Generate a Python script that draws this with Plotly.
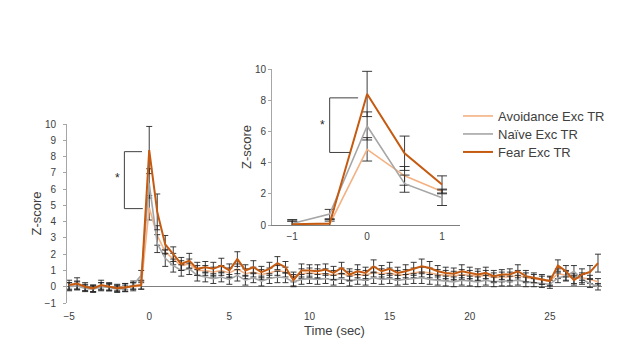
import plotly.graph_objects as go

# ---------------- data ----------------
time_sec = [-5, -4.5, -4, -3.5, -3, -2.5, -2, -1.5, -1, -0.5,
            0, 0.5, 1, 1.5, 2, 2.5, 3, 3.5, 4, 4.5,
            5, 5.5, 6, 6.5, 7, 7.5, 8, 8.5, 9, 9.5,
            10, 10.5, 11, 11.5, 12, 12.5, 13, 13.5, 14, 14.5,
            15, 15.5, 16, 16.5, 17, 17.5, 18, 18.5, 19, 19.5,
            20, 20.5, 21, 21.5, 22, 22.5, 23, 23.5, 24, 24.5,
            25, 25.5, 26, 26.5, 27, 27.5, 28]

fear = [0.10, 0.20, 0.00, -0.10, 0.10, 0.00, -0.10, -0.05, 0.05, 0.10,
        8.40, 4.60, 2.60, 2.00, 1.40, 1.60, 1.10, 1.20, 1.10, 1.30,
        1.00, 1.70, 1.00, 1.20, 0.90, 1.10, 1.45, 1.20, 0.40, 1.00,
        1.00, 0.95, 1.05, 0.85, 1.15, 0.75, 0.95, 0.85, 1.25, 0.95,
        1.10, 0.85, 0.95, 1.10, 1.25, 1.15, 0.95, 0.85, 0.80, 0.95,
        0.85, 0.75, 0.85, 0.65, 0.75, 0.75, 0.95, 0.65, 0.55, 0.45,
        0.35, 1.30, 0.95, 0.40, 0.75, 0.90, 1.45]
fear_err = [0.30, 0.35, 0.25, 0.20, 0.30, 0.25, 0.20, 0.25, 0.20, 0.25,
            1.45, 1.10, 0.55, 0.45, 0.40, 0.45, 0.40, 0.35, 0.40, 0.45,
            0.40, 0.45, 0.35, 0.40, 0.35, 0.40, 0.40, 0.35, 0.35, 0.40,
            0.35, 0.40, 0.35, 0.40, 0.35, 0.35, 0.40, 0.35, 0.40, 0.35,
            0.40, 0.35, 0.40, 0.40, 0.45, 0.40, 0.35, 0.35, 0.35, 0.40,
            0.35, 0.35, 0.35, 0.35, 0.30, 0.35, 0.40, 0.35, 0.30, 0.30,
            0.30, 0.35, 0.35, 0.30, 0.35, 0.40, 0.55]

avoid = [0.05, 0.10, -0.05, -0.10, 0.05, 0.00, -0.05, 0.00, 0.00, 0.05,
         4.85, 3.15, 2.15, 1.70, 1.30, 1.40, 1.00, 1.00, 0.90, 1.00,
         0.85, 1.10, 0.80, 0.90, 0.75, 0.85, 1.00, 0.90, 0.60, 0.80,
         0.85, 0.80, 0.80, 0.70, 0.85, 0.65, 0.75, 0.70, 0.90, 0.80,
         0.85, 0.70, 0.75, 0.85, 0.90, 0.85, 0.75, 0.70, 0.65, 0.75,
         0.70, 0.65, 0.70, 0.55, 0.60, 0.60, 0.70, 0.55, 0.50, 0.40,
         0.35, 0.80, 0.70, 0.50, 0.55, 0.45, 0.30]
avoid_err = [0.20, 0.25, 0.20, 0.20, 0.20, 0.20, 0.20, 0.20, 0.25, 0.20,
             0.75, 0.60, 0.15, 0.35, 0.30, 0.30, 0.30, 0.30, 0.30, 0.30,
             0.30, 0.30, 0.30, 0.30, 0.30, 0.30, 0.30, 0.30, 0.30, 0.30,
             0.30, 0.30, 0.30, 0.30, 0.30, 0.30, 0.30, 0.30, 0.30, 0.30,
             0.30, 0.30, 0.30, 0.30, 0.30, 0.30, 0.30, 0.30, 0.30, 0.30,
             0.30, 0.30, 0.30, 0.30, 0.30, 0.30, 0.30, 0.30, 0.25, 0.25,
             0.25, 0.30, 0.30, 0.30, 0.30, 0.25, 0.20]

naive = [0.00, 0.05, -0.10, -0.15, 0.00, -0.05, -0.15, -0.10, 0.10, 0.70,
         6.35, 2.65, 1.75, 1.30, 1.00, 1.10, 0.70, 0.60, 0.50, 0.60,
         0.45, 0.70, 0.40, 0.55, 0.35, 0.50, 0.60, 0.55, 0.30, 0.45,
         0.50, 0.45, 0.50, 0.40, 0.50, 0.35, 0.45, 0.40, 0.55, 0.45,
         0.50, 0.40, 0.45, 0.50, 0.55, 0.45, 0.40, 0.35, 0.30, 0.40,
         0.35, 0.30, 0.40, 0.30, 0.35, 0.35, 0.40, 0.30, 0.25, 0.20,
         0.15, 0.55, 0.65, 0.95, 0.45, 0.20, 0.00]
naive_err = [0.25, 0.25, 0.20, 0.20, 0.25, 0.20, 0.20, 0.20, 0.25, 0.30,
             0.90, 0.55, 0.50, 0.40, 0.35, 0.35, 0.35, 0.30, 0.30, 0.30,
             0.30, 0.35, 0.30, 0.30, 0.30, 0.30, 0.35, 0.30, 0.30, 0.30,
             0.30, 0.30, 0.30, 0.30, 0.30, 0.30, 0.30, 0.30, 0.35, 0.30,
             0.30, 0.30, 0.30, 0.30, 0.35, 0.30, 0.30, 0.30, 0.30, 0.30,
             0.30, 0.30, 0.30, 0.30, 0.30, 0.30, 0.30, 0.30, 0.25, 0.25,
             0.25, 0.30, 0.30, 0.35, 0.30, 0.25, 0.20]

series_names = ["Avoidance Exc TR", "Naïve Exc TR", "Fear Exc TR"]
series_colors = ["#F4B183", "#A6A6A6", "#C55A11"]

x_tick_vals = [-5, 0, 5, 10, 15, 20, 25]
y_tick_vals = [-1, 0, 1, 2, 3, 4, 5, 6, 7, 8, 9, 10]
inset_x_ticks = [-1, 0, 1]
inset_y_ticks = [0, 2, 4, 6, 8, 10]

# inset window: -1 .. 1 s
inset_lo, inset_hi = time_sec.index(-1), time_sec.index(1) + 1

# ---------------- figure ----------------
OFF = 8                       # default page body margin
W, H = 617 - 2 * OFF, 347 - 2 * OFF   # keep page inside the window
FONT = "Liberation Sans, Arial, sans-serif"
TXT = "#404040"
ERRC = "#262626"

fig = go.Figure()

vals = [avoid, naive, fear]
errs = [avoid_err, naive_err, fear_err]
widths = [1.6, 1.6, 2.0]
legend_ids = ["legend", "legend2", "legend3"]

for name, col, v, e, w, lg in zip(series_names, series_colors, vals, errs,
                                  widths, legend_ids):
    fig.add_trace(go.Scatter(
        x=time_sec, y=v, mode="lines", name=name,
        line=dict(color=col, width=w),
        error_y=dict(type="data", array=e, visible=True, color=ERRC,
                     thickness=0.9, width=3),
        xaxis="x", yaxis="y", showlegend=True, legend=lg))

for name, col, v, e, w in zip(series_names, series_colors, vals, errs, widths):
    fig.add_trace(go.Scatter(
        x=time_sec[inset_lo:inset_hi], y=v[inset_lo:inset_hi], mode="lines",
        name=name, line=dict(color=col, width=w),
        error_y=dict(type="data", array=e[inset_lo:inset_hi], visible=True,
                     color=ERRC, thickness=0.9, width=5),
        xaxis="x2", yaxis="y2", showlegend=False))

def px_x(p):
    return (p - OFF) / W

def px_y(p):
    return 1 - (p - OFF) / H

legend_style = dict(x=px_x(458), xanchor="left", yanchor="middle",
                    bgcolor="rgba(0,0,0,0)", font=dict(size=13, color=TXT),
                    itemwidth=30)

fig.update_layout(
    width=W, height=H, autosize=False,
    margin=dict(l=0, r=0, t=0, b=0, pad=0, autoexpand=False),
    paper_bgcolor="white", plot_bgcolor="rgba(0,0,0,0)",
    font=dict(family=FONT, color=TXT, size=10),
    xaxis=dict(domain=[px_x(67), px_x(602)], range=[-5.13, 28.25],
               automargin=False,
               tickvals=x_tick_vals, showgrid=False, zeroline=False,
               showline=False, ticks="", tickfont=dict(size=10),
               ticklabelstandoff=6,
               title=dict(text="Time (sec)", font=dict(size=13), standoff=4)),
    yaxis=dict(domain=[px_y(303), px_y(124)], range=[-1, 10],
               automargin=False,
               tickvals=y_tick_vals, showgrid=False,
               zeroline=True, zerolinecolor="#7F7F7F", zerolinewidth=1,
               showline=True, linecolor="#A6A6A6", linewidth=1,
               ticks="outside", ticklen=3, tickcolor="#A6A6A6",
               tickfont=dict(size=10), ticklabelstandoff=5,
               title=dict(text="Z-score", font=dict(size=13), standoff=0)),
    xaxis2=dict(domain=[px_x(272), px_x(460)], range=[-1.27, 1.24],
                automargin=False,
                anchor="y2", tickvals=inset_x_ticks, showgrid=False,
                zeroline=False, showline=True, linecolor="#7F7F7F",
                ticks="", tickfont=dict(size=10), ticklabelstandoff=2),
    yaxis2=dict(domain=[px_y(225), px_y(69)], range=[0, 10], anchor="x2",
                automargin=False,
                tickvals=inset_y_ticks, showgrid=False, zeroline=False,
                showline=True, linecolor="#A6A6A6", ticks="outside",
                ticklen=3, tickcolor="#A6A6A6", tickfont=dict(size=10),
                title=dict(text="Z-score", font=dict(size=13), standoff=0)),
    legend=dict(legend_style, y=px_y(116)),
    legend2=dict(legend_style, y=px_y(134)),
    legend3=dict(legend_style, y=px_y(152)),
)

# significance brackets (between Fear and Avoidance peaks)
peak = time_sec.index(0)
BR = "#404040"
for xa, ya, xv, xr_top, xr_bot, top, bot, star_x, star_y in [
        ("x", "y", -1.55, -0.45, -0.4, fear[peak] - 0.1, avoid[peak] - 0.05, -2.0, 6.7),
        ("x2", "y2", -0.5, -0.12, -0.23, fear[peak] - 0.25, avoid[peak] - 0.2, -0.59, 6.4)]:
    fig.add_shape(type="line", xref=xa, yref=ya, x0=xv, x1=xv, y0=bot, y1=top,
                  line=dict(color=BR, width=1))
    fig.add_shape(type="line", xref=xa, yref=ya, x0=xv, x1=xr_top, y0=top, y1=top,
                  line=dict(color=BR, width=1))
    fig.add_shape(type="line", xref=xa, yref=ya, x0=xv, x1=xr_bot, y0=bot, y1=bot,
                  line=dict(color=BR, width=1))
    fig.add_annotation(xref=xa, yref=ya, x=star_x, y=star_y, text="*",
                       showarrow=False, font=dict(size=12, color="#262626"))

fig.write_html("out.html")
